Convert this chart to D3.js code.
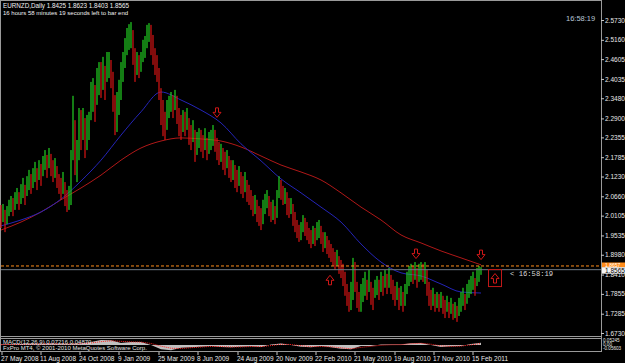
<!DOCTYPE html>
<html>
<head>
<meta charset="utf-8">
<script src="https://cdn.jsdelivr.net/npm/d3@7"></script>
<style>
html, body { margin: 0; padding: 0; background: #000; overflow: hidden; }
svg { display: block; }
text { font-family: "Liberation Sans", Arial, sans-serif; }
</style>
</head>
<body>
<div id="chart"></div>
<script>
// EURNZD daily, one entry every ~3 sessions
var symbol = "EURNZD,Daily";
var lastBar = [1.8425, 1.8623, 1.8403, 1.8565]; // O H L C of current bar
var firstOpen = 2.010;

var closes = [
  2.004, 2.021, 1.992, 2.015, 2.032, 2.044, 2.027, 2.056, 2.067, 2.050,
  2.073, 2.090, 2.067, 2.096, 2.113, 2.096, 2.119, 2.136, 2.113, 2.142,
  2.124, 2.153, 2.170, 2.147, 2.176, 2.156, 2.136, 2.147, 2.119, 2.099,
  2.084, 2.107, 2.070, 2.050, 2.056, 2.170, 2.257, 2.142, 2.199, 2.271,
  2.242, 2.285, 2.214, 2.257, 2.271, 2.343, 2.372, 2.314, 2.386, 2.415,
  2.401, 2.429, 2.386, 2.444, 2.458, 2.415, 2.343, 2.262, 2.314, 2.357,
  2.401, 2.444, 2.487, 2.516, 2.530, 2.530, 2.472, 2.429, 2.452, 2.435,
  2.458, 2.487, 2.501, 2.530, 2.544, 2.516, 2.472, 2.452, 2.424, 2.377,
  2.314, 2.271, 2.251, 2.291, 2.320, 2.343, 2.320, 2.349, 2.309, 2.262,
  2.257, 2.285, 2.271, 2.291, 2.242, 2.228, 2.257, 2.185, 2.214, 2.234,
  2.222, 2.205, 2.228, 2.199, 2.222, 2.228, 2.242, 2.222, 2.199, 2.185,
  2.194, 2.170, 2.156, 2.176, 2.147, 2.136, 2.142, 2.119, 2.107, 2.124,
  2.101, 2.090, 2.107, 2.078, 2.067, 2.056, 2.032, 2.044, 2.021, 2.004,
  1.992, 2.021, 2.044, 2.061, 2.032, 2.015, 2.027, 2.004, 2.067, 2.107,
  2.078, 2.061, 2.070, 2.032, 2.021, 2.038, 2.004, 1.981, 1.963, 1.952,
  1.969, 1.992, 1.975, 1.963, 1.946, 1.940, 1.958, 1.946, 1.969, 1.975,
  1.952, 1.929, 1.940, 1.923, 1.912, 1.900, 1.889, 1.877, 1.889, 1.866,
  1.854, 1.837, 1.803, 1.774, 1.754, 1.791, 1.860, 1.811, 1.768, 1.751,
  1.774, 1.797, 1.814, 1.791, 1.826, 1.782, 1.762, 1.797, 1.808, 1.791,
  1.820, 1.803, 1.826, 1.808, 1.831, 1.811, 1.791, 1.774, 1.797, 1.768,
  1.780, 1.757, 1.791, 1.820, 1.837, 1.849, 1.837, 1.854, 1.831, 1.849,
  1.854, 1.843, 1.860, 1.808, 1.780, 1.762, 1.774, 1.751, 1.768, 1.757,
  1.768, 1.751, 1.739, 1.757, 1.734, 1.751, 1.728, 1.739, 1.722, 1.745,
  1.762, 1.774, 1.757, 1.785, 1.803, 1.811, 1.826, 1.803, 1.837, 1.843,
  1.8565
];
var highs = [
  2.041, 2.044, 2.027, 2.038, 2.056, 2.067, 2.061, 2.078, 2.090, 2.078,
  2.101, 2.119, 2.099, 2.124, 2.142, 2.130, 2.147, 2.165, 2.147, 2.170,
  2.159, 2.182, 2.199, 2.185, 2.205, 2.188, 2.170, 2.176, 2.153, 2.130,
  2.119, 2.136, 2.107, 2.084, 2.096, 2.199, 2.355, 2.285, 2.228, 2.320,
  2.314, 2.320, 2.291, 2.300, 2.309, 2.395, 2.406, 2.386, 2.435, 2.452,
  2.452, 2.467, 2.441, 2.481, 2.481, 2.458, 2.424, 2.357, 2.366, 2.401,
  2.452, 2.481, 2.521, 2.550, 2.561, 2.567, 2.544, 2.492, 2.481, 2.472,
  2.481, 2.516, 2.527, 2.559, 2.564, 2.559, 2.530, 2.492, 2.472, 2.435,
  2.377, 2.343, 2.309, 2.343, 2.355, 2.366, 2.357, 2.372, 2.355, 2.320,
  2.300, 2.314, 2.309, 2.320, 2.291, 2.271, 2.285, 2.257, 2.251, 2.262,
  2.257, 2.242, 2.262, 2.234, 2.251, 2.257, 2.271, 2.257, 2.234, 2.222,
  2.217, 2.205, 2.194, 2.199, 2.182, 2.170, 2.170, 2.156, 2.142, 2.153,
  2.136, 2.124, 2.136, 2.113, 2.099, 2.084, 2.067, 2.070, 2.056, 2.038,
  2.032, 2.056, 2.073, 2.084, 2.067, 2.050, 2.056, 2.038, 2.084, 2.124,
  2.113, 2.096, 2.090, 2.078, 2.061, 2.061, 2.044, 2.021, 1.998, 1.984,
  1.992, 2.012, 2.004, 1.992, 1.975, 1.969, 1.981, 1.975, 1.992, 1.998,
  1.981, 1.963, 1.963, 1.952, 1.940, 1.929, 1.917, 1.906, 1.912, 1.894,
  1.883, 1.872, 1.849, 1.814, 1.791, 1.820, 1.889, 1.877, 1.820, 1.791,
  1.814, 1.831, 1.849, 1.826, 1.854, 1.820, 1.803, 1.826, 1.837, 1.826,
  1.849, 1.837, 1.854, 1.843, 1.860, 1.840, 1.826, 1.808, 1.820, 1.803,
  1.808, 1.791, 1.814, 1.849, 1.866, 1.872, 1.866, 1.877, 1.860, 1.872,
  1.877, 1.872, 1.877, 1.854, 1.820, 1.797, 1.803, 1.785, 1.791, 1.785,
  1.791, 1.780, 1.768, 1.780, 1.762, 1.774, 1.757, 1.762, 1.751, 1.774,
  1.791, 1.803, 1.785, 1.814, 1.826, 1.837, 1.849, 1.831, 1.860, 1.866,
  1.8623
];
var lows = [
  1.975, 1.992, 1.963, 1.986, 2.009, 2.021, 2.009, 2.027, 2.044, 2.027,
  2.044, 2.061, 2.041, 2.067, 2.084, 2.073, 2.090, 2.107, 2.084, 2.113,
  2.096, 2.124, 2.142, 2.119, 2.147, 2.124, 2.107, 2.119, 2.090, 2.073,
  2.056, 2.073, 2.038, 2.021, 2.027, 2.041, 2.170, 2.127, 2.107, 2.170,
  2.199, 2.228, 2.176, 2.199, 2.228, 2.285, 2.309, 2.280, 2.329, 2.357,
  2.349, 2.372, 2.343, 2.395, 2.406, 2.377, 2.309, 2.242, 2.251, 2.300,
  2.343, 2.395, 2.435, 2.472, 2.487, 2.492, 2.444, 2.395, 2.415, 2.406,
  2.424, 2.452, 2.464, 2.492, 2.510, 2.472, 2.444, 2.415, 2.395, 2.343,
  2.271, 2.239, 2.228, 2.257, 2.291, 2.309, 2.291, 2.314, 2.274, 2.239,
  2.228, 2.251, 2.239, 2.257, 2.214, 2.199, 2.222, 2.165, 2.185, 2.205,
  2.194, 2.176, 2.199, 2.170, 2.188, 2.199, 2.211, 2.194, 2.170, 2.156,
  2.165, 2.142, 2.127, 2.147, 2.119, 2.107, 2.113, 2.090, 2.078, 2.096,
  2.073, 2.061, 2.078, 2.050, 2.041, 2.027, 2.009, 2.015, 1.992, 1.981,
  1.969, 1.986, 2.015, 2.032, 2.009, 1.992, 1.998, 1.986, 2.004, 2.061,
  2.056, 2.041, 2.044, 2.012, 2.004, 2.015, 1.981, 1.963, 1.946, 1.935,
  1.940, 1.963, 1.952, 1.940, 1.929, 1.917, 1.929, 1.923, 1.940, 1.946,
  1.929, 1.906, 1.917, 1.900, 1.889, 1.877, 1.866, 1.854, 1.866, 1.843,
  1.831, 1.808, 1.780, 1.751, 1.734, 1.739, 1.768, 1.791, 1.745, 1.734,
  1.734, 1.762, 1.780, 1.768, 1.791, 1.754, 1.739, 1.774, 1.782, 1.768,
  1.791, 1.780, 1.803, 1.785, 1.803, 1.785, 1.768, 1.751, 1.768, 1.739,
  1.751, 1.734, 1.751, 1.785, 1.808, 1.820, 1.814, 1.826, 1.803, 1.820,
  1.826, 1.820, 1.814, 1.780, 1.751, 1.739, 1.751, 1.734, 1.745, 1.734,
  1.745, 1.728, 1.716, 1.734, 1.716, 1.728, 1.711, 1.716, 1.705, 1.722,
  1.734, 1.751, 1.739, 1.757, 1.774, 1.785, 1.797, 1.780, 1.808, 1.820,
  1.8403
];

// moving averages, one value every 10 entries
var maStep = 10;
var maBlue = [1.981, 1.998, 2.021, 2.058, 2.110, 2.170, 2.242, 2.309, 2.366, 2.343,
  2.314, 2.277, 2.217, 2.168, 2.116, 2.076, 2.035, 1.992, 1.929, 1.877,
  1.846, 1.837, 1.814, 1.791, 1.788];
var maRed = [1.969, 1.992, 2.021, 2.056, 2.090, 2.127, 2.170, 2.205, 2.225, 2.234,
  2.231, 2.225, 2.208, 2.182, 2.156, 2.136, 2.113, 2.076, 2.035, 1.998,
  1.955, 1.932, 1.909, 1.889, 1.869];

// MACD(12,26,9), one value every 5 entries
var macdStep = 5;
var macdHist = [0.005, 0.008, 0.010, 0.012, 0.012, 0.014, 0.010, 0.012, 0.015, 0.030,
  0.048, 0.045, 0.020, 0.030, 0.028, 0.000, -0.040, -0.050, -0.025, -0.020,
  -0.015, -0.010, -0.018, -0.020, -0.015, -0.012, -0.018, 0.005, 0.015, 0.000,
  -0.015, -0.020, -0.010, -0.020, -0.035, -0.040, -0.010, -0.010, 0.005, 0.005,
  0.005, 0.018, 0.020, 0.000, -0.018, -0.012, -0.008, 0.010, 0.022];
var macdSignal = [0.004, 0.006, 0.008, 0.010, 0.011, 0.012, 0.012, 0.011, 0.013, 0.020,
  0.032, 0.040, 0.035, 0.030, 0.028, 0.015, -0.010, -0.030, -0.032, -0.025,
  -0.018, -0.013, -0.014, -0.018, -0.017, -0.014, -0.015, -0.005, 0.008, 0.005,
  -0.006, -0.015, -0.014, -0.016, -0.026, -0.035, -0.022, -0.012, -0.002, 0.003,
  0.004, 0.012, 0.017, 0.008, -0.008, -0.012, -0.010, 0.002, 0.015];

var priceTicks = [2.5730, 2.5160, 2.4605, 2.4035, 2.3480, 2.2900, 2.2355, 2.1785, 2.1230,
  2.0660, 2.0105, 1.9535, 1.8980, 1.8410, 1.7855, 1.7285, 1.6730];
var dateLabels = ["27 May 2008", "11 Aug 2008", "24 Oct 2008", "9 Jan 2009", "25 Mar 2009",
  "8 Jun 2009", "24 Aug 2009", "20 Nov 2009", "22 Feb 2010", "21 May 2010",
  "19 Aug 2010", "17 Nov 2010", "15 Feb 2011"];
var dateIdx = [0.5, 20, 39.5, 59, 79, 98.5, 118.5, 138, 157.5, 177, 197, 216.5, 236];

// signal arrows drawn on the chart
var downArrowIdx = [108, 207.5, 240];
var downArrowPrice = [2.306, 1.900, 1.897];
var upArrowIdx = [164.5, 247];
var upArrowPrice = [1.826, 1.831];
var levelLine = 1.8657;

var W = 625, H = 363;
var plotRight = 601;

var svg = d3.select("#chart").append("svg")
  .attr("width", W).attr("height", H);

svg.append("rect").attr("width", W).attr("height", H).attr("fill", "#000");

var x = d3.scaleLinear().domain([0, 240]).range([1, 481]);
var y = d3.scaleLinear().domain([1.6730, 2.5730]).range([333, 20]);
var ym = d3.scaleLinear().domain([-0.05603, 0.05245]).range([351, 339.5]);

// frame
var frame = "#9a9a9a";
svg.append("rect").attr("x", 0.5).attr("y", 0.5).attr("width", plotRight).attr("height", 351)
  .attr("fill", "none").attr("stroke", frame);
svg.append("line").attr("x1", 0).attr("x2", plotRight).attr("y1", 336.5).attr("y2", 336.5).attr("stroke", frame);
svg.append("line").attr("x1", 0).attr("x2", plotRight).attr("y1", 338.5).attr("y2", 338.5).attr("stroke", frame);

// moving averages
var maLine = d3.line()
  .x(function (d, i) { return x(i * maStep); })
  .y(function (d) { return y(d); })
  .curve(d3.curveMonotoneX);
svg.append("path").datum(maRed).attr("d", maLine)
  .attr("fill", "none").attr("stroke", "#b01818").attr("stroke-width", 1);
svg.append("path").datum(maBlue).attr("d", maLine)
  .attr("fill", "none").attr("stroke", "#2424b8").attr("stroke-width", 1);

// price bars
var bars = closes.map(function (c, i) {
  return { i: i, o: i === 0 ? firstOpen : closes[i - 1], h: highs[i], l: lows[i], c: c };
});
svg.append("g").selectAll("rect").data(bars).enter().append("rect")
  .attr("x", function (d) { return x(d.i) - 0.6; })
  .attr("width", 1.2)
  .attr("y", function (d) { return y(d.h); })
  .attr("height", function (d) { return Math.max(1, y(d.l) - y(d.h)); })
  .attr("fill", function (d) { return d.c >= d.o ? "#22d022" : "#d81414"; });

// level line + bid line
svg.append("line").attr("x1", 1).attr("x2", plotRight).attr("y1", y(levelLine)).attr("y2", y(levelLine))
  .attr("stroke", "#ff8c1a").attr("stroke-dasharray", "3,2");
svg.append("line").attr("x1", 1).attr("x2", plotRight).attr("y1", y(lastBar[3]) + 0.5).attr("y2", y(lastBar[3]) + 0.5)
  .attr("stroke", "#707a86");

// arrows
function arrowPath(cx, cy, down) {
  var s = down ? 1 : -1;
  return "M" + (cx - 1.5) + "," + (cy - 5 * s) + "h3v" + (4.5 * s) + "h2.5l-4," + (5 * s) +
    "l-4," + (-5 * s) + "h2.5z";
}
downArrowIdx.forEach(function (d, k) {
  svg.append("path").attr("d", arrowPath(x(d), y(downArrowPrice[k]), true))
    .attr("fill", "none").attr("stroke", "#d01818");
});
upArrowIdx.forEach(function (d, k) {
  svg.append("path").attr("d", arrowPath(x(d), y(upArrowPrice[k]), false))
    .attr("fill", "none").attr("stroke", "#d01818");
});
svg.append("rect").attr("x", x(upArrowIdx[1]) - 6.5).attr("y", y(upArrowPrice[1]) - 8.5)
  .attr("width", 13).attr("height", 17).attr("fill", "none").attr("stroke", "#c01818");

svg.append("text").attr("x", 510).attr("y", 276).attr("fill", "#d8d8d8")
  .style("font-family", "'Liberation Mono', monospace").style("font-size", "7.2px")
  .text("< 16:58:19");

// price axis
var yAxis = d3.axisRight(y).tickValues(priceTicks).tickFormat(d3.format(".4f")).tickSize(3);
var ga = svg.append("g").attr("transform", "translate(" + plotRight + ",0)").call(yAxis);
ga.select(".domain").remove();
ga.selectAll("line").attr("stroke", "#c8c8c8");
ga.selectAll("text").attr("x", 4).attr("fill", "#e8e8e8").style("font-size", "6.5px");

// current price labels
svg.append("rect").attr("x", 602).attr("y", y(levelLine) - 3.5).attr("width", 23).attr("height", 5)
  .attr("fill", "#ff8c1a");
svg.append("text").attr("x", 605).attr("y", y(levelLine) + 1).attr("fill", "#fff")
  .style("font-size", "5px").text(levelLine.toFixed(4));
svg.append("rect").attr("x", 602).attr("y", y(lastBar[3]) - 2).attr("width", 23).attr("height", 6.5)
  .attr("fill", "#f4f4f4");
svg.append("text").attr("x", 605).attr("y", y(lastBar[3]) + 3.5).attr("fill", "#000")
  .style("font-size", "6.5px").text(lastBar[3].toFixed(4));

// MACD
var macdArea = d3.area()
  .x(function (d, i) { return x(i * macdStep); })
  .y0(ym(0))
  .y1(function (d) { return ym(d); });
svg.append("path").datum(macdHist).attr("d", macdArea).attr("fill", "#c0c0c0");
var sigLine = d3.line()
  .x(function (d, i) { return x(i * macdStep); })
  .y(function (d) { return ym(d); });
svg.append("path").datum(macdSignal).attr("d", sigLine)
  .attr("fill", "none").attr("stroke", "#ff2020").attr("stroke-dasharray", "1,1");

svg.append("text").attr("x", 3).attr("y", 344).attr("fill", "#e0e0e0").style("font-size", "6px")
  .text("MACD(12,26,9) 0.07216 0.04870");
svg.append("text").attr("x", 3).attr("y", 350).attr("fill", "#e0e0e0").style("font-size", "6px")
  .text("FxPro MT4, \u00a9 2001-2010 MetaQuotes Software Corp.");

var macdTicks = [0.05245, 0, -0.05603];
var macdFmt = ["0.05245", "0.00", "-0.05603"];
var gm = svg.append("g").attr("transform", "translate(" + plotRight + ",0)");
gm.selectAll("text").data(macdTicks).enter().append("text")
  .attr("x", 2).attr("y", function (d, k) { return [341.5, 345.5, 349.5][k]; })
  .attr("fill", "#e8e8e8").style("font-size", "4.6px")
  .text(function (d, k) { return macdFmt[k]; });

// date axis
var gd = svg.append("g");
gd.selectAll("line").data(dateIdx).enter().append("line")
  .attr("x1", function (d) { return x(d); }).attr("x2", function (d) { return x(d); })
  .attr("y1", 352).attr("y2", 355).attr("stroke", "#c8c8c8");
gd.selectAll("text").data(dateIdx).enter().append("text")
  .attr("x", function (d) { return x(d) - 1; }).attr("y", 361)
  .attr("fill", "#e8e8e8").style("font-size", "6.5px")
  .text(function (d, k) { return dateLabels[k]; });

// header text
svg.append("text").attr("x", 3).attr("y", 8).attr("fill", "#f0f0f0").style("font-size", "6.3px")
  .text(symbol + "  " + lastBar.map(function (v) { return v.toFixed(4); }).join(" "));
svg.append("text").attr("x", 3).attr("y", 15).attr("fill", "#f0f0f0").style("font-size", "6px")
  .text("16 hours 58 minutes 19 seconds left to bar end");
svg.append("text").attr("x", 566).attr("y", 21).attr("fill", "#b8c8d8").style("font-size", "7.5px")
  .text("16:58:19");
</script>
</body>
</html>
